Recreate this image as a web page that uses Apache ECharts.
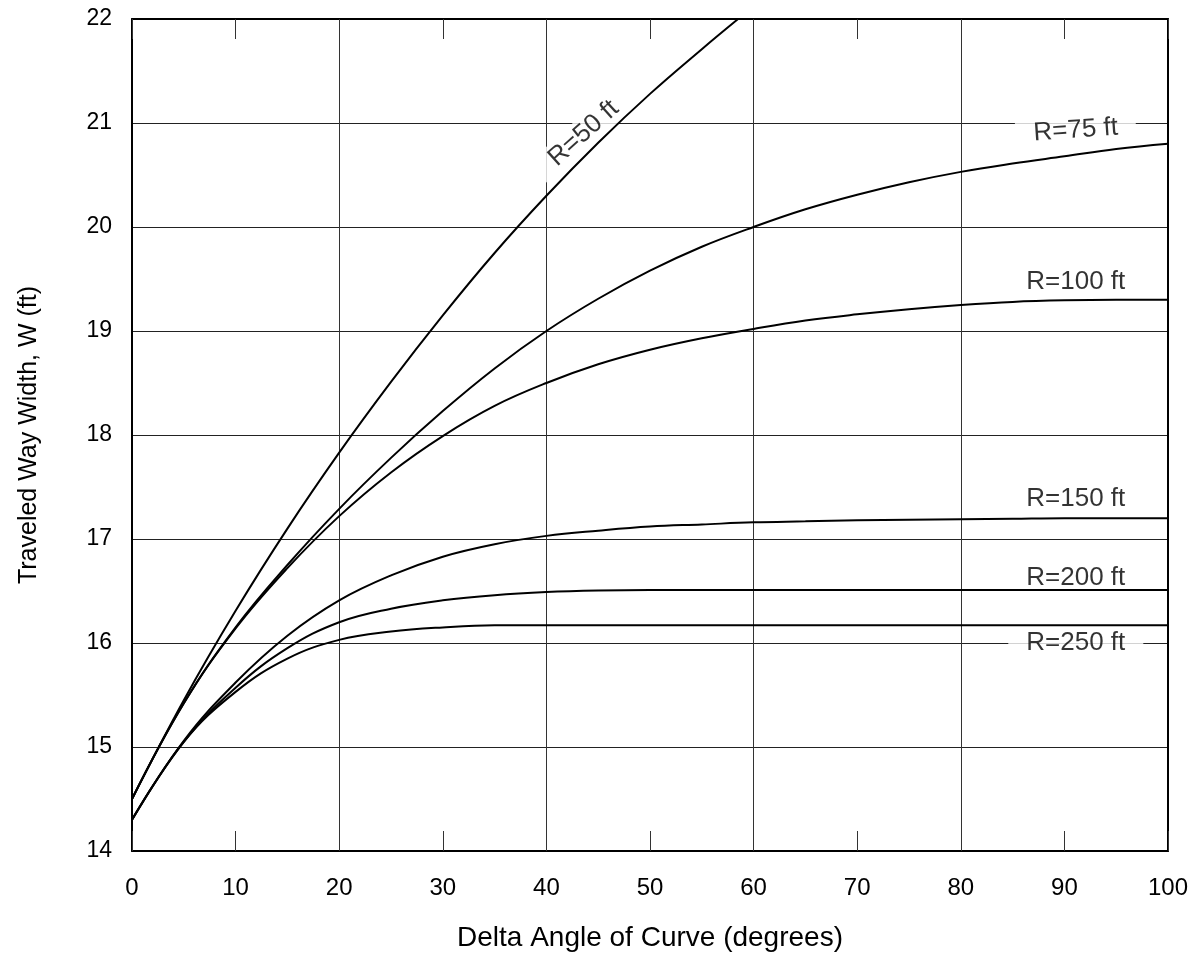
<!DOCTYPE html>
<html>
<head>
<meta charset="utf-8">
<script src="https://cdn.jsdelivr.net/npm/echarts@6/dist/echarts.min.js"></script>
<style>
html,body{margin:0;padding:0;background:#fff;}
#chart{width:1198px;height:976px;}
</style>
</head>
<body>
<div id="chart"></div>
<script>
// Delta angle (degrees) sample points
const angles = [0, 5, 10, 15, 20, 25, 30, 35, 40, 45, 50, 55, 60, 65, 70, 75, 80, 85, 90, 95, 100];
// R=50 ft leaves the chart at W=22
const anglesR50 = [0, 5, 10, 15, 20, 25, 30, 35, 40, 45, 50, 55, 58.5];
const wR50  = [14.5, 15.45, 16.31, 17.10, 17.83, 18.51, 19.15, 19.75, 20.30, 20.81, 21.28, 21.71, 22.0];
const wR75  = [14.5, 15.42, 16.15, 16.75, 17.29, 17.78, 18.23, 18.64, 19.0, 19.31, 19.58, 19.81, 20.0, 20.17, 20.31, 20.43, 20.53, 20.61, 20.68, 20.75, 20.8];
const wR100 = [14.5, 15.42, 16.14, 16.72, 17.22, 17.64, 17.99, 18.28, 18.5, 18.68, 18.82, 18.93, 19.02, 19.1, 19.16, 19.21, 19.25, 19.28, 19.295, 19.3, 19.3];
const wR150 = [14.3, 15.06, 15.62, 16.07, 16.41, 16.65, 16.83, 16.95, 17.03, 17.08, 17.12, 17.14, 17.16, 17.17, 17.18, 17.185, 17.19, 17.195, 17.2, 17.2, 17.2];
const wR200 = [14.3, 15.05, 15.57, 15.95, 16.2, 16.33, 16.41, 16.46, 16.49, 16.505, 16.51, 16.51, 16.51, 16.51, 16.51, 16.51, 16.51, 16.51, 16.51, 16.51, 16.51];
const wR250 = [14.3, 15.05, 15.53, 15.85, 16.03, 16.11, 16.15, 16.17, 16.17, 16.17, 16.17, 16.17, 16.17, 16.17, 16.17, 16.17, 16.17, 16.17, 16.17, 16.17, 16.17];

const curveNames = ['R=50 ft', 'R=75 ft', 'R=100 ft', 'R=150 ft', 'R=200 ft', 'R=250 ft'];
const xTicks = [0, 10, 20, 30, 40, 50, 60, 70, 80, 90, 100];
const yTicks = [14, 15, 16, 17, 18, 19, 20, 21, 22];

// Curve label anchors (data coordinates) and rotation
const labelAngle = [43.6, 91.1, 91.1, 91.1, 91.1, 91.1];
const labelW     = [20.9, 20.93, 19.47, 17.39, 16.63, 16.0];
const labelRot   = [42, 4, 0, 0, 0, 0];

const FONT = '"Liberation Sans", Arial, sans-serif';

function pairs(xs, ys){ return xs.map((x,i)=>[x, ys[i]]); }

const curves = [
  pairs(anglesR50, wR50),
  pairs(angles, wR75),
  pairs(angles, wR100),
  pairs(angles, wR150),
  pairs(angles, wR200),
  pairs(angles, wR250)
];

const chart = echarts.init(document.getElementById('chart'), null, {renderer: 'canvas'});

const lineSeries = curves.map((d, i) => ({
  name: curveNames[i],
  type: 'line',
  xAxisIndex: 0,
  yAxisIndex: 0,
  data: d,
  smooth: 0.4,
  showSymbol: false,
  symbol: 'none',
  clip: true,
  z: 5,
  lineStyle: {color: '#000', width: 2},
  animation: false
}));

const labelSeries = {
  type: 'scatter',
  xAxisIndex: 0,
  yAxisIndex: 0,
  symbolSize: 0,
  z: 2,
  silent: true,
  animation: false,
  itemStyle: {color: '#000'},
  data: curveNames.map((n, i) => ({
    value: [labelAngle[i], labelW[i]],
    name: n,
    label: {rotate: labelRot[i]}
  })),
  label: {
    show: true,
    position: 'inside',
    formatter: p => p.name,
    color: '#000',
    textBorderWidth: 0,
    textBorderColor: 'transparent',
    fontFamily: FONT,
    fontSize: 26,
    backgroundColor: '#fff',
    padding: [2, 18, 2, 18]
  }
};

chart.setOption({
  animation: false,
  backgroundColor: '#fff',
  grid: {left: 132, right: 30, top: 19, bottom: 125, containLabel: false},
  xAxis: [
    {
      type: 'value', position: 'bottom', min: 0, max: 100, interval: 10,
      name: 'Delta Angle of Curve (degrees)', nameLocation: 'middle', nameGap: 73,
      nameTextStyle: {fontFamily: FONT, fontSize: 28, color: '#000'},
      axisLine: {show: true, onZero: false, lineStyle: {color: '#000', width: 2}},
      axisTick: {show: true, inside: true, length: 20, lineStyle: {color: '#333', width: 1}},
      axisLabel: {show: true, margin: 25, fontFamily: FONT, fontSize: 24, color: '#000',
        formatter: v => xTicks.includes(v) ? String(v) : ''},
      splitLine: {show: false}
    },
    {
      type: 'value', position: 'top', min: 0, max: 100, interval: 10,
      axisLine: {show: true, onZero: false, lineStyle: {color: '#000', width: 2}},
      axisTick: {show: true, inside: true, length: 20, lineStyle: {color: '#333', width: 1}},
      axisLabel: {show: false},
      splitLine: {show: false}
    },
    {
      type: 'value', position: 'bottom', min: 0, max: 100, interval: 20,
      axisLine: {show: false}, axisTick: {show: false}, axisLabel: {show: false},
      splitLine: {show: true, lineStyle: {color: '#333', width: 1}}
    }
  ],
  yAxis: [
    {
      type: 'value', position: 'left', min: 14, max: 22, interval: 1,
      name: 'Traveled Way Width, W (ft)', nameLocation: 'middle', nameGap: 90, nameRotate: 90,
      nameTextStyle: {fontFamily: FONT, fontSize: 25, color: '#000'},
      axisLine: {show: true, onZero: false, lineStyle: {color: '#000', width: 2}},
      axisTick: {show: false},
      axisLabel: {show: true, margin: 20, fontFamily: FONT, fontSize: 23, color: '#000',
        formatter: v => yTicks.includes(v) ? String(v) : ''},
      splitLine: {show: true, lineStyle: {color: '#222', width: 1}}
    },
    {
      type: 'value', position: 'right', min: 14, max: 22, interval: 1,
      axisLine: {show: true, onZero: false, lineStyle: {color: '#000', width: 2}},
      axisTick: {show: false}, axisLabel: {show: false}, splitLine: {show: false}
    }
  ],
  series: [labelSeries, ...lineSeries]
});
</script>
</body>
</html>
